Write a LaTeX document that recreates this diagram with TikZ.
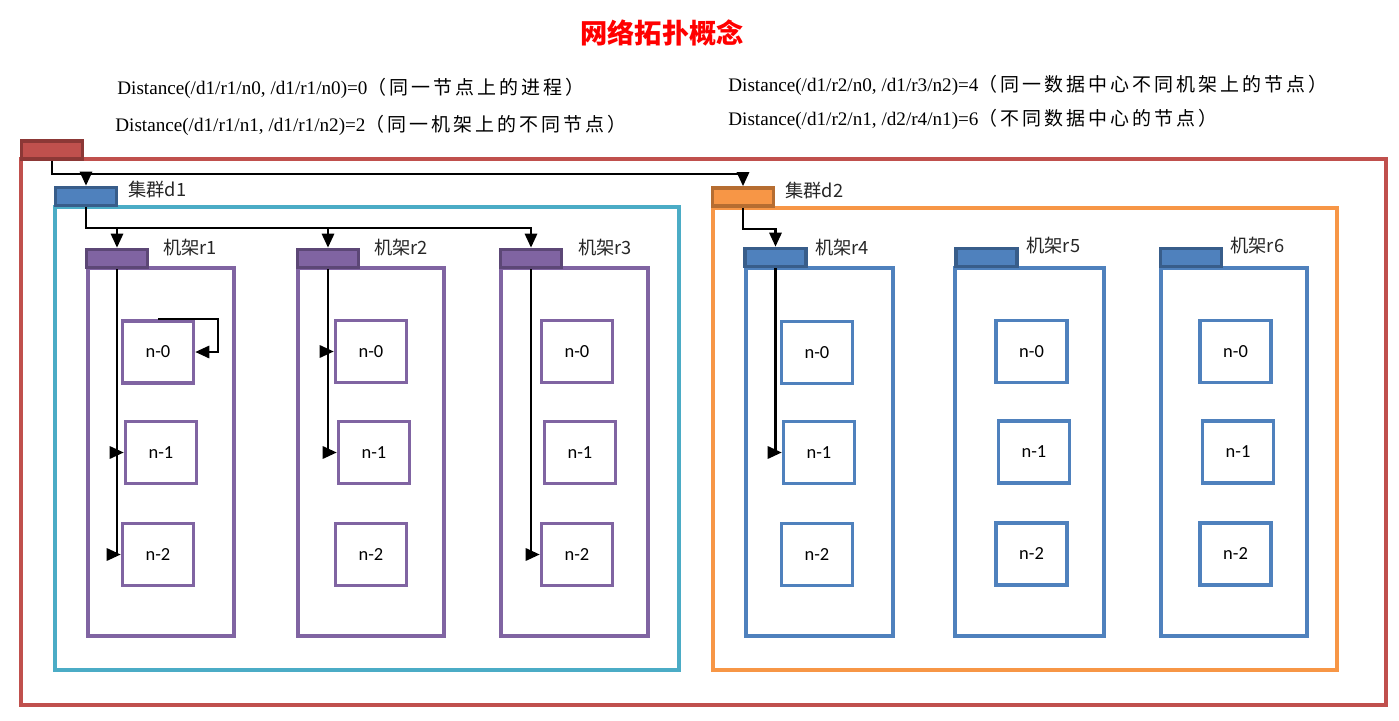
\documentclass[tikz,border=0pt]{standalone}
\usepackage{fontspec}
\setmainfont{Liberation Serif}
\newfontfamily\cjk{Noto Sans CJK SC}
\newfontfamily\cjkwide{Noto Sans CJK SC}[LetterSpace=16]
\newfontfamily\cali{Carlito}
\usepackage{tikz}
\usetikzlibrary{positioning, shapes, arrows.meta}

\definecolor{netred}{HTML}{C0504D}
\definecolor{netreddk}{HTML}{8C3836}
\definecolor{netteal}{HTML}{4BACC6}
\definecolor{netorange}{HTML}{F79646}
\definecolor{netorangedk}{HTML}{B66D31}
\definecolor{netblue}{HTML}{4F81BD}
\definecolor{netbluedk}{HTML}{385D8A}
\definecolor{netpurple}{HTML}{8064A2}
\definecolor{netpurpledk}{HTML}{5C4776}

\begin{document}
\begin{tikzpicture}[x=0.02cm, y=-0.02cm,
  frame/.style={draw=#1, line width=2pt},
  tab/.style={draw=#1dk, fill=#1, rectangle, line width=2.1pt, minimum width=1.22cm, minimum height=0.36cm, inner sep=0},
  host/.style={draw=#1, rectangle, line width=2pt, fill=white, minimum width=1.42cm, minimum height=1.24cm, inner sep=0, font=\cali\fontsize{10.5}{12}\selectfont},
  lbl/.style={anchor=west, inner sep=0, font=\cjk\fontsize{10.4}{12}\selectfont, text=black!85},
  dist/.style={anchor=west, inner sep=0, font=\fontsize{10.9}{13}\selectfont},
  link/.style={draw, line width=1.3pt, -{Triangle[length=8pt, width=7pt]}}]
  \useasboundingbox (0,0) rectangle (1399,720);

  % title and distances
  \node (title) [text=red, font=\cjk\bfseries\fontsize{15.5}{18}\selectfont] at (662,33) {网络拓扑概念};
  \node (dist0) [dist] at (117,88) {Distance(/d1/r1/n0, /d1/r1/n0)=0{\cjkwide\fontsize{10.8}{13}\selectfont （同一节点上的进程）}};
  \node (dist2) [dist] at (115,125) {Distance(/d1/r1/n1, /d1/r1/n2)=2{\cjkwide\fontsize{10.8}{13}\selectfont （同一机架上的不同节点）}};
  \node (dist4) [dist] at (728,85) {Distance(/d1/r2/n0, /d1/r3/n2)=4{\cjkwide\fontsize{10.8}{13}\selectfont （同一数据中心不同机架上的节点）}};
  \node (dist6) [dist] at (728,119) {Distance(/d1/r2/n1, /d2/r4/n1)=6{\cjkwide\fontsize{10.8}{13}\selectfont （不同数据中心的节点）}};

  % containers
  \draw [frame=netred] (21,159) rectangle (1386,705);
  \draw [frame=netteal] (55,207) rectangle (679,670);
  \draw [frame=netorange] (713,208) rectangle (1337,670);
  \draw [frame=netpurple] (88,268) rectangle (234,636);
  \draw [frame=netpurple] (298,268) rectangle (444,636);
  \draw [frame=netpurple] (501,268) rectangle (648,636);
  \draw [frame=netblue] (746,268) rectangle (893,636);
  \draw [frame=netblue] (955,268) rectangle (1104,636);
  \draw [frame=netblue] (1161,268) rectangle (1307,636);

  % tabs
  \node (root) [tab=netred] at (52,150) {};
  \node (d1tab) [tab=netblue] at (86,196.5) {};
  \node (d2tab) [tab=netorange] at (743,197) {};
  \node (r1tab) [tab=netpurple] at (117,258.5) {};
  \node (r2tab) [tab=netpurple] at (328,258.5) {};
  \node (r3tab) [tab=netpurple] at (531,258.5) {};
  \node (r4tab) [tab=netblue] at (775.5,257.5) {};
  \node (r5tab) [tab=netblue] at (986.5,257.5) {};
  \node (r6tab) [tab=netblue] at (1191,257.5) {};

  \node (d1lbl) [lbl] at (128,190) {集群d1};
  \node (d2lbl) [lbl] at (785,191) {集群d2};
  \node (r1lbl) [lbl] at (163,248) {机架r1};
  \node (r2lbl) [lbl] at (374,248) {机架r2};
  \node (r3lbl) [lbl] at (578,248) {机架r3};
  \node (r4lbl) [lbl] at (815,248) {机架r4};
  \node (r5lbl) [lbl] at (1026,246) {机架r5};
  \node (r6lbl) [lbl] at (1230,246) {机架r6};

  % nodes
  \node (r1n0) [host=netpurple] at (158,352) {n-0};
  \node (r1n1) [host=netpurple] at (161,452.5) {n-1};
  \node (r1n2) [host=netpurple] at (158,554.5) {n-2};
  \node (r2n0) [host=netpurple] at (371,351.5) {n-0};
  \node (r2n1) [host=netpurple] at (374,452.5) {n-1};
  \node (r2n2) [host=netpurple] at (371,554.5) {n-2};
  \node (r3n0) [host=netpurple] at (577,351.5) {n-0};
  \node (r3n1) [host=netpurple] at (580,452.5) {n-1};
  \node (r3n2) [host=netpurple] at (577,554.5) {n-2};
  \node (r4n0) [host=netblue] at (817,352.5) {n-0};
  \node (r4n1) [host=netblue] at (819,452.5) {n-1};
  \node (r4n2) [host=netblue] at (817,554.5) {n-2};
  \node (r5n0) [host=netblue] at (1031.5,351.5) {n-0};
  \node (r5n1) [host=netblue] at (1034,452) {n-1};
  \node (r5n2) [host=netblue] at (1031.5,554) {n-2};
  \node (r6n0) [host=netblue] at (1235.5,351.5) {n-0};
  \node (r6n1) [host=netblue] at (1238,452) {n-1};
  \node (r6n2) [host=netblue] at (1235.5,554) {n-2};

  % connectors
  \draw [link] (root.south) -- ++(0,13) -| (d1tab.north);
  \draw [link] (root.south) -- ++(0,13) -| (d2tab.north);
  \draw [link] (d1tab.south) -- ++(0,21) -| (r1tab.north);
  \draw [link] (d1tab.south) -- ++(0,21) -| (r2tab.north);
  \draw [link] (d1tab.south) -- ++(0,21) -| (r3tab.north);
  \draw [link] (d2tab.south) -- ++(0,21) -| (r4tab.north);

  \draw [link] (r1n0.north) -- ++(60,0) |- (r1n0.east);
  \draw [link] (r1tab.south) |- (r1n1.west);
  \draw [link] (r1tab.south) |- (r1n2.west);
  \draw [link] (r2tab.south) |- (r2n0.west);
  \draw [link] (r2tab.south) |- (r2n1.west);
  \draw [link] (r3tab.south) |- (r3n2.west);
  \draw [link] (r4tab.south) |- (r4n1.west);
\end{tikzpicture}
\end{document}
